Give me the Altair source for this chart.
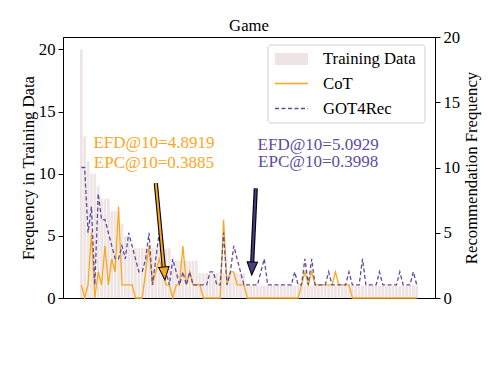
import altair as alt
import pandas as pd

# ---- data ----
train_freq = [20, 13, 11, 10, 10, 9, 8, 8, 8, 7,
              7, 6, 6, 5, 5, 4, 4, 4, 4, 4,
              4, 4, 4, 4, 4, 4, 4, 3, 3, 3,
              3, 3, 3, 3, 3, 2, 2, 2, 2, 2,
              2, 2, 2, 2, 2, 2, 2, 2, 2, 1,
              1, 1, 1, 1, 1, 1, 1, 1, 1, 1,
              1, 1, 1, 1, 1, 1, 1, 1, 1, 1,
              1, 1, 1, 1, 1, 1, 1, 1, 1, 1,
              1, 1, 1, 1, 1, 1, 1, 1, 1, 1,
              1, 1, 1, 1, 1, 1, 1, 1, 1, 1]
cot_freq = [1, 0, 1, 5, 0, 2, 1, 4, 1, 3,
            2, 7, 1, 1, 1, 1, 0, 0, 0, 2,
            4, 1, 2, 3, 2, 1, 1, 0, 1, 1,
            4, 1, 2, 1, 1, 1, 0, 0, 0, 0,
            0, 0, 6, 1, 2, 2, 1, 1, 1, 0,
            0, 0, 0, 0, 0, 0, 0, 0, 0, 0,
            0, 0, 0, 0, 0, 1, 2, 1, 2, 1,
            1, 1, 1, 1, 1, 2, 1, 1, 1, 1,
            0, 0, 0, 0, 0, 0, 0, 0, 0, 0,
            0, 0, 0, 0, 0, 0, 0, 0, 0, 0]
got_freq = [10, 10, 5, 7, 1, 8, 6, 6, 5, 4,
            3, 3, 4, 3, 5, 4, 3, 2, 2, 3,
            5, 1, 3, 5, 3, 2, 1, 3, 2, 1,
            2, 1, 2, 1, 1, 1, 1, 1, 2, 2,
            1, 1, 5, 1, 2, 4, 3, 2, 1, 1,
            1, 1, 1, 2, 3, 1, 1, 1, 1, 1,
            1, 1, 1, 2, 1, 1, 3, 1, 3, 1,
            1, 1, 1, 2, 1, 1, 1, 1, 1, 2,
            1, 1, 1, 3, 1, 1, 1, 1, 2, 1,
            1, 1, 1, 1, 2, 1, 1, 1, 2, 1]
items = list(range(len(train_freq)))
series_names = ["CoT", "GOT4Rec"]

ann_text = ["EFD@10=4.8919", "EPC@10=0.3885", "EFD@10=5.0929", "EPC@10=0.3998"]
ann_x = [21.45, 21.45, 69.9, 69.9]
ann_y = [11.85, 10.35, 11.75, 10.4]
ann_series = ["CoT", "CoT", "GOT4Rec", "GOT4Rec"]

arrow_x = [22.0, 51.5]        # shaft start
arrow_y = [8.8, 8.4]
arrow_bx = [24.35, 50.45]     # shaft end (head base)
arrow_by = [2.37, 2.76]
arrow_tx = [24.7, 50.3]       # head tip
arrow_ty = [1.38, 1.76]
arrow_angle = [354.7, 2.8]

FONT = "Liberation Serif"
FS = 16.7
ORANGE = "#F9A71E"
PURPLE = "#5E4C9E"
PURPLE_DARK = "#4B3A85"
BAR = "#EFE4E4"

df = pd.DataFrame({"item": items, "train": train_freq})
df["x0"] = df["item"] - 0.4
df["x1"] = df["item"] + 0.4

long = pd.DataFrame({
    "item": items + items,
    "value": cot_freq + got_freq,
    "series": [series_names[0]] * len(items) + [series_names[1]] * len(items),
})

ann = pd.DataFrame({"text": ann_text, "x": ann_x, "y": ann_y, "series": ann_series})
arrows = pd.DataFrame({
    "x": arrow_x, "y": arrow_y, "bx": arrow_bx, "by": arrow_by,
    "tx": arrow_tx, "ty": arrow_ty, "angle": arrow_angle,
    "fill": [ORANGE, PURPLE_DARK],
})

xscale = alt.Scale(domain=[-5.39, 104.39], nice=False, zero=False)
left = alt.Scale(domain=[0, 21], nice=False, zero=False)
right = alt.Scale(domain=[0, 20], nice=False, zero=False)
color_scale = alt.Scale(domain=series_names, range=[ORANGE, PURPLE])

bars = alt.Chart(df).mark_bar(color=BAR).encode(
    x=alt.X("x0:Q", scale=xscale, axis=None),
    x2="x1:Q",
    y=alt.Y("train:Q", scale=left,
            axis=alt.Axis(orient="left", title="Frequency in Training Data",
                          values=[0, 5, 10, 15, 20], titlePadding=1)),
    y2=alt.datum(0),
)

lines = alt.Chart(long).mark_line(strokeWidth=1.3).encode(
    x=alt.X("item:Q", scale=xscale, axis=None),
    y=alt.Y("value:Q", scale=right,
            axis=alt.Axis(orient="right", title="Recommendation Frequency",
                          values=[0, 5, 10, 15, 20], titlePadding=4, titleAngle=270,
                          titleBaseline="top")),
    color=alt.Color("series:N", scale=color_scale, legend=None),
    strokeDash=alt.StrokeDash("series:N",
                              scale=alt.Scale(domain=series_names, range=[[1, 0], [4, 2.5]]),
                              legend=None),
)

texts = alt.Chart(ann).mark_text(font=FONT, fontSize=17, align="center", baseline="middle").encode(
    x=alt.X("x:Q", scale=xscale, axis=None),
    y=alt.Y("y:Q", scale=right, axis=None),
    text="text:N",
    color=alt.Color("series:N", scale=color_scale, legend=None),
)

shaft_outline = alt.Chart(arrows).mark_rule(color="black", strokeWidth=4.2).encode(
    x=alt.X("x:Q", scale=xscale, axis=None), x2="bx:Q",
    y=alt.Y("y:Q", scale=right, axis=None), y2="by:Q",
)
shaft_fill = alt.Chart(arrows).mark_rule(strokeWidth=2).encode(
    x=alt.X("x:Q", scale=xscale, axis=None), x2="bx:Q",
    y=alt.Y("y:Q", scale=right, axis=None), y2="by:Q",
    color=alt.Color("fill:N", scale=None),
)
heads = alt.Chart(arrows).mark_point(
    shape="M -0.8 -2 L 0.8 -2 L 0 0 Z", filled=True, size=169,
    stroke="black", strokeWidth=1, opacity=1,
).encode(
    x=alt.X("tx:Q", scale=xscale, axis=None),
    y=alt.Y("ty:Q", scale=right, axis=None),
    fill=alt.Fill("fill:N", scale=None),
    angle=alt.Angle("angle:Q", scale=None),
)

# ---- legend box (drawn by hand, matplotlib style) ----
one = pd.DataFrame({"k": [0]})
leg_box = alt.Chart(one).mark_rect(fill="white", stroke="#cccccc", strokeWidth=1,
                                   cornerRadius=3, opacity=0.9).encode(
    x=alt.value(205), x2=alt.value(362), y=alt.value(8), y2=alt.value(86))
leg_patch = alt.Chart(one).mark_rect(fill=BAR).encode(
    x=alt.value(212), x2=alt.value(245), y=alt.value(16), y2=alt.value(28))
leg_cot = alt.Chart(one).mark_rule(color=ORANGE, strokeWidth=1.3).encode(
    x=alt.value(212), x2=alt.value(245), y=alt.value(46.5))
leg_got = alt.Chart(one).mark_rule(color=PURPLE, strokeWidth=1.3, strokeDash=[4, 2.5]).encode(
    x=alt.value(212), x2=alt.value(245), y=alt.value(71.5))
leg_labels = pd.DataFrame({"t": ["Training Data", "CoT", "GOT4Rec"], "yy": [22, 46.5, 71.5]})
leg_text = alt.Chart(leg_labels).mark_text(font=FONT, fontSize=FS, align="left",
                                           baseline="middle", color="black").encode(
    x=alt.value(260), y=alt.Y("yy:Q", scale=None), text="t:N")

chart = alt.layer(
    bars, lines, texts, shaft_outline, shaft_fill, heads,
    leg_box, leg_patch, leg_cot, leg_got, leg_text,
).resolve_scale(y="independent").properties(
    width=372, height=261,
    title=alt.Title("Game", font=FONT, fontSize=FS, fontWeight="normal", color="black",
                    offset=5, frame="group", dy=11),
    autosize=alt.AutoSizeParams(type="none"),
    padding={"left": 55, "top": 29, "right": 55, "bottom": 60},
).configure_view(
    stroke="black", strokeWidth=1,
).configure_axis(
    labelFont=FONT, labelFontSize=FS, labelColor="black",
    titleFont=FONT, titleFontSize=FS, titleFontWeight="normal", titleColor="black",
    tickColor="black", tickSize=5, domainColor="black", grid=False, labelPadding=3,
)

chart.save("out.html", embed_options={"renderer": "svg", "actions": False})
